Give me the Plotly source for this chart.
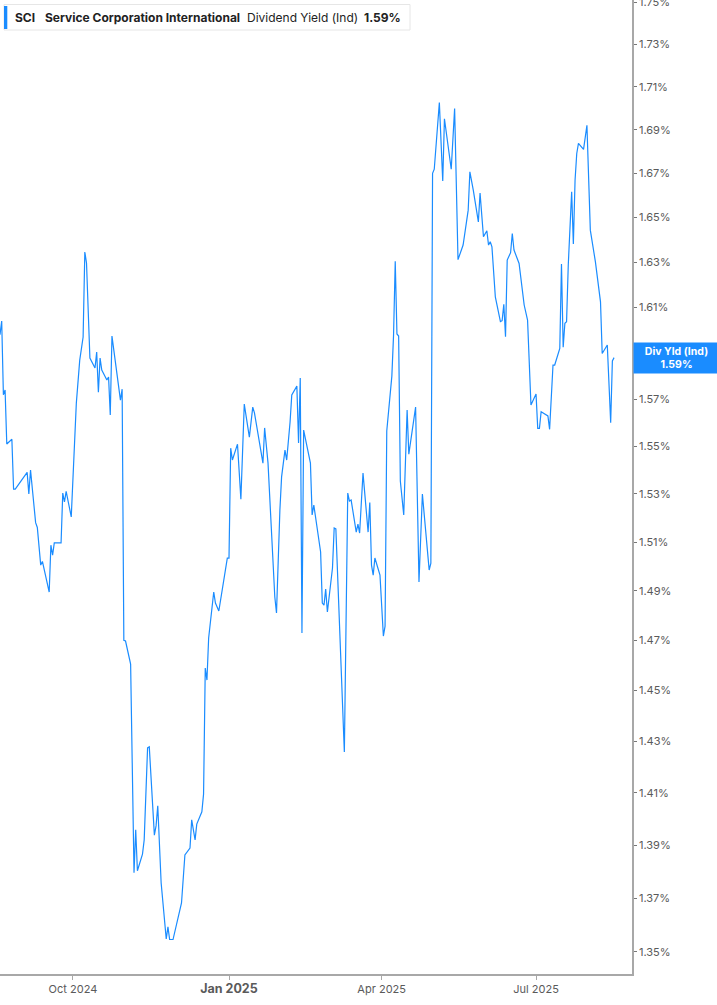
import numpy as np
import plotly.graph_objects as go

# ---------------- data ----------------
dates = [
    "2024-08-19", "2024-08-20", "2024-08-21", "2024-08-22", "2024-08-23", "2024-08-26", "2024-08-27", "2024-08-28",
    "2024-09-04", "2024-09-05", "2024-09-06", "2024-09-09", "2024-09-10", "2024-09-12", "2024-09-13", "2024-09-17",
    "2024-09-18", "2024-09-19", "2024-09-20", "2024-09-24", "2024-09-25", "2024-09-26", "2024-09-27", "2024-09-30",
    "2024-10-03", "2024-10-05", "2024-10-07", "2024-10-08", "2024-10-09", "2024-10-11", "2024-10-14", "2024-10-15",
    "2024-10-16", "2024-10-17", "2024-10-18", "2024-10-21", "2024-10-22", "2024-10-23", "2024-10-24", "2024-10-27",
    "2024-10-29", "2024-10-30", "2024-10-31", "2024-11-01", "2024-11-04", "2024-11-06", "2024-11-07", "2024-11-08",
    "2024-11-11", "2024-11-12", "2024-11-14", "2024-11-15", "2024-11-18", "2024-11-19", "2024-11-20", "2024-11-22",
    "2024-11-25", "2024-11-26", "2024-11-27", "2024-11-29", "2024-12-04", "2024-12-06", "2024-12-09", "2024-12-10",
    "2024-12-12", "2024-12-13", "2024-12-16", "2024-12-17", "2024-12-18", "2024-12-19", "2024-12-20", "2024-12-23",
    "2024-12-24", "2024-12-26", "2024-12-30", "2024-12-31", "2025-01-01", "2025-01-02", "2025-01-03", "2025-01-06",
    "2025-01-08", "2025-01-10", "2025-01-13", "2025-01-15", "2025-01-16", "2025-01-21", "2025-01-22", "2025-01-24",
    "2025-01-28", "2025-01-29", "2025-01-31", "2025-02-01", "2025-02-03", "2025-02-04", "2025-02-06", "2025-02-07",
    "2025-02-10", "2025-02-11", "2025-02-12", "2025-02-13", "2025-02-14", "2025-02-18", "2025-02-19", "2025-02-20",
    "2025-02-24", "2025-02-25", "2025-02-26", "2025-02-27", "2025-02-28", "2025-03-03", "2025-03-04", "2025-03-05",
    "2025-03-10", "2025-03-12", "2025-03-13", "2025-03-14", "2025-03-17", "2025-03-18", "2025-03-19", "2025-03-21",
    "2025-03-24", "2025-03-25", "2025-03-26", "2025-03-27", "2025-03-28", "2025-03-31", "2025-04-02", "2025-04-03",
    "2025-04-04", "2025-04-07", "2025-04-08", "2025-04-09", "2025-04-10", "2025-04-11", "2025-04-12", "2025-04-14",
    "2025-04-16", "2025-04-17", "2025-04-21", "2025-04-22", "2025-04-23", "2025-04-25", "2025-04-29", "2025-04-30",
    "2025-05-01", "2025-05-02", "2025-05-05", "2025-05-07", "2025-05-08", "2025-05-12", "2025-05-14", "2025-05-16",
    "2025-05-19", "2025-05-21", "2025-05-22", "2025-05-23", "2025-05-25", "2025-05-28", "2025-05-29", "2025-05-31",
    "2025-06-02", "2025-06-03", "2025-06-04", "2025-06-05", "2025-06-07", "2025-06-10", "2025-06-11", "2025-06-12",
    "2025-06-13", "2025-06-14", "2025-06-16", "2025-06-17", "2025-06-18", "2025-06-21", "2025-06-24", "2025-06-26",
    "2025-06-28", "2025-07-01", "2025-07-02", "2025-07-03", "2025-07-04", "2025-07-08", "2025-07-09", "2025-07-11",
    "2025-07-12", "2025-07-15", "2025-07-16", "2025-07-17", "2025-07-18", "2025-07-19", "2025-07-20", "2025-07-22",
    "2025-07-23", "2025-07-24", "2025-07-25", "2025-07-26", "2025-07-29", "2025-07-31", "2025-08-02", "2025-08-05",
    "2025-08-08", "2025-08-09", "2025-08-12", "2025-08-14", "2025-08-15", "2025-08-16",
]

div_yield = [
    1.598, 1.604, 1.572, 1.574, 1.551, 1.553, 1.532, 1.532,
    1.539, 1.530, 1.540, 1.518, 1.516, 1.5005, 1.502, 1.4895,
    1.5087, 1.5046, 1.5096, 1.5096, 1.5303, 1.5266, 1.531, 1.5204,
    1.5684, 1.5869, 1.597, 1.6345, 1.6296, 1.5878, 1.5835, 1.5904,
    1.5731, 1.5878, 1.5826, 1.5783, 1.5796, 1.5633, 1.5974, 1.5813,
    1.5697, 1.5744, 1.470, 1.4697, 1.4605, 1.3795, 1.3958, 1.3803,
    1.3866, 1.392, 1.4274, 1.4278, 1.3938, 1.3973, 1.405, 1.3757,
    1.3548, 1.3593, 1.3546, 1.3546, 1.3682, 1.3863, 1.3889, 1.3996,
    1.392, 1.398, 1.4027, 1.4095, 1.4589, 1.4541, 1.4709, 1.4895,
    1.485, 1.4818, 1.4993, 1.5034, 1.5034, 1.5492, 1.5442, 1.5509,
    1.5278, 1.568, 1.5539, 1.5667, 1.5642, 1.5429, 1.5578, 1.5429,
    1.4875, 1.481, 1.5233, 1.5371, 1.5484, 1.5442, 1.5603, 1.5719,
    1.5757, 1.5514, 1.5792, 1.4729, 1.5569, 1.5429, 1.5212, 1.5253,
    1.5059, 1.485, 1.4842, 1.4907, 1.4814, 1.4993, 1.5158, 1.5154,
    1.4258, 1.5303, 1.527, 1.5274, 1.5141, 1.5174, 1.5137, 1.5387,
    1.5141, 1.5264, 1.5005, 1.4964, 1.5034, 1.4964, 1.4717, 1.4757,
    1.5565, 1.58, 1.5978, 1.6304, 1.5983, 1.5974, 1.5354, 1.5212,
    1.5654, 1.5467, 1.5667, 1.5212, 1.4936, 1.5299, 1.4985, 1.5013,
    1.670, 1.6719, 1.7026, 1.6665, 1.6951, 1.6719, 1.6998, 1.6311,
    1.6376, 1.648, 1.6533, 1.6707, 1.6624, 1.648, 1.661, 1.6413,
    1.644, 1.6376, 1.6391, 1.6368, 1.6146, 1.6037, 1.6041, 1.6113,
    1.5971, 1.6309, 1.6342, 1.6428, 1.6354, 1.6294, 1.611, 1.6044,
    1.5676, 1.5723, 1.5576, 1.5576, 1.5647, 1.5629, 1.5572, 1.5848,
    1.5848, 1.592, 1.6291, 1.5925, 1.603, 1.6037, 1.6287, 1.6616,
    1.6381, 1.6669, 1.6791, 1.6837, 1.681, 1.6921, 1.6443, 1.6301,
    1.6124, 1.5898, 1.5935, 1.56, 1.5866, 1.588,
]

y_tick_values = [1.35, 1.37, 1.39, 1.41, 1.43, 1.45, 1.47, 1.49, 1.51, 1.53, 1.55,
                 1.57, 1.59, 1.61, 1.63, 1.65, 1.67, 1.69, 1.71, 1.73, 1.75]
x_tick_dates = ["2024-10-01", "2025-01-01", "2025-04-01", "2025-07-01"]
x_tick_labels = ["Oct 2024", "Jan 2025", "Apr 2025", "Jul 2025"]

ticker = "SCI"
company = "Service Corporation International"
metric = "Dividend Yield (Ind)"
short_metric = "Div Yld (Ind)"

# ---------------- layout constants ----------------
W, H = 717, 1005
ML, MR, MT, MB = 0, 85, 0, 31
PW, PH = W - ML - MR, H - MT - MB
BLUE = "#1a8cff"
AXIS = "#a8a8a8"
TXT = "#5a5a5a"


def px(x):
    return x / PW


def py(y):
    return 1 - y / PH


last_val = div_yield[-1]
last_txt = f"{last_val:.2f}%"

fig = go.Figure()
fig.add_trace(go.Scatter(
    x=dates, y=div_yield, mode="lines",
    line=dict(color=BLUE, width=1.2),
    hoverinfo="skip", showlegend=False,
))

tick_text_x = []
for lab in x_tick_labels:
    if lab.startswith("Jan"):
        tick_text_x.append(f"<span style='font-size:12.5px'><b>{lab}</b></span>")
    else:
        tick_text_x.append(lab)

# the 1.59% tick label sits behind the last-value box, as in the source
tick_text_y = ["" if abs(v - round(last_val, 2)) < 1e-9 else f"{v:.2f}%"
               for v in y_tick_values]

fig.update_layout(
    width=W, height=H,
    margin=dict(l=ML, r=MR, t=MT, b=MB, pad=0, autoexpand=False),
    paper_bgcolor="white", plot_bgcolor="white",
    font=dict(family="Inter, Roboto, sans-serif", color=TXT),
    xaxis=dict(
        type="date", automargin=False,
        range=["2024-08-19", "2025-08-26 13:40"],
        tickmode="array", tickvals=x_tick_dates, ticktext=tick_text_x,
        showgrid=False, zeroline=False,
        showline=True, linecolor=AXIS, linewidth=1.5,
        ticks="outside", ticklen=4, tickcolor=AXIS, tickwidth=1,
        tickfont=dict(size=11, color=TXT, family="Inter, Roboto, sans-serif"),
        fixedrange=True,
    ),
    yaxis=dict(
        type="log", side="right", automargin=False,
        range=[np.log10(1.3419), np.log10(1.7510)],
        tickmode="array", tickvals=y_tick_values, ticktext=tick_text_y,
        ticklabeloverflow="allow",
        showgrid=False, zeroline=False,
        showline=True, linecolor=AXIS, linewidth=1.5,
        ticks="outside", ticklen=3, tickcolor="#777", tickwidth=1,
        tickfont=dict(size=11, color=TXT, family="Inter, Roboto, sans-serif"),
        fixedrange=True,
    ),
)

# header box
fig.add_shape(type="rect", xref="paper", yref="paper",
              x0=px(4), x1=px(410), y0=py(30), y1=py(4.5),
              line=dict(color="#e6e6e6", width=1), fillcolor="white", layer="above")
fig.add_shape(type="rect", xref="paper", yref="paper",
              x0=px(4), x1=px(7.3), y0=py(29), y1=py(6),
              line=dict(width=0), fillcolor=BLUE, layer="above")

hdr = [
    (12.5, f"<b>{ticker}</b>"),
    (42.5, f"<b>{company}</b>"),
    (245, metric),
    (362, f"<b>{last_txt}</b>"),
]
for x0, t in hdr:
    fig.add_annotation(xref="paper", yref="paper", x=px(x0), y=py(17),
                       xanchor="left", yanchor="middle", showarrow=False,
                       text=t, font=dict(size=12, color="#222222",
                                         family="Inter, Roboto, sans-serif"))

# last value label on the right axis
fig.add_annotation(xref="paper", yref="y", x=1, y=np.log10(last_val),
                   xanchor="left", yanchor="middle", showarrow=False,
                   xshift=1, width=85, height=30, bgcolor=BLUE, borderpad=0,
                   align="center",
                   text=f"<b>{short_metric}</b><br><b>{last_txt}</b>",
                   font=dict(size=10.5, color="white",
                             family="Inter, Roboto, sans-serif"))

fig.write_html(
    "out.html",
    config={"displayModeBar": False},
    post_script="document.body.style.margin='0';document.body.style.overflow='hidden';",
)
